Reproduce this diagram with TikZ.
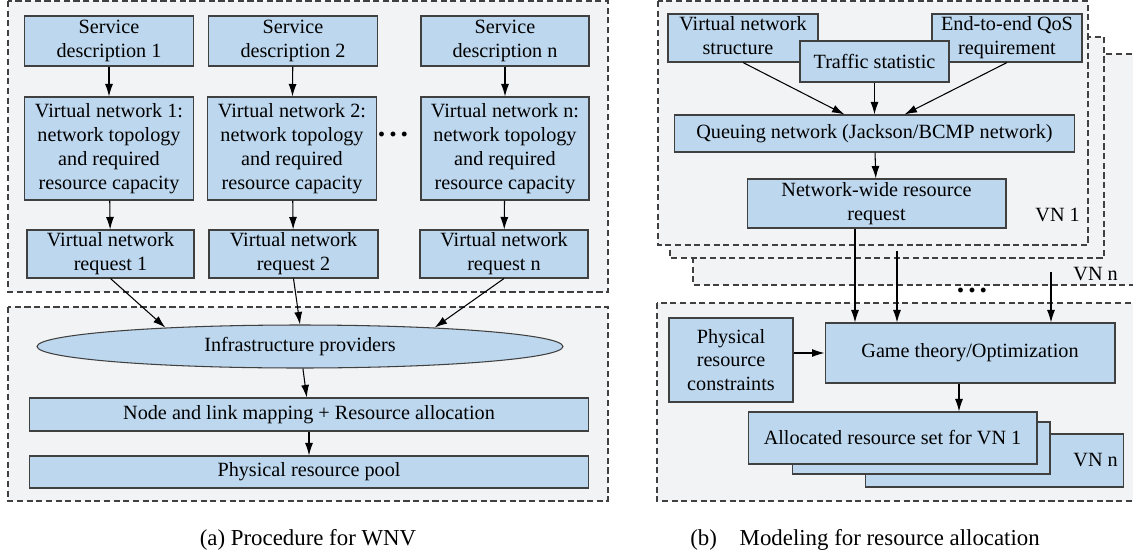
\documentclass[tikz,border=0pt]{standalone}
\usepackage{fontspec}
\setmainfont{Liberation Serif}
\usepackage{tikz}
\usetikzlibrary{shapes,arrows.meta}

\definecolor{boxblue}{RGB}{189,215,238}
\definecolor{framegray}{RGB}{242,243,245}
\definecolor{edgegray}{RGB}{64,64,64}

\begin{document}
\begin{tikzpicture}[x=0.02cm, y=-0.02cm, font=\fontsize{11.5}{13.6}\selectfont]
	\tikzstyle{block} = [rectangle, draw=edgegray, fill=boxblue, line width=0.6pt,
	align=center, inner sep=1pt]
	\tikzstyle{frame} = [draw=edgegray, fill=framegray, line width=0.6pt,
	dash pattern=on 3.5pt off 2pt]
	\tikzstyle{line} = [draw, -{Latex[length=2.5mm,width=1.6mm]}, line width=0.6pt]
	\tikzstyle{dots} = [font=\fontsize{17}{17}\selectfont\bfseries]
	\tikzstyle{caption} = [font=\fontsize{13}{15}\selectfont]
	\useasboundingbox (0,0) rectangle (1133,558);
	% Frames
	\draw [frame] (8,1) rectangle (608,292);
	\draw [frame] (8,307) rectangle (608,501);
	\draw [frame] (693,54) rectangle (1150,285);
	\draw [frame] (670,37) rectangle (1104,258);
	\draw [frame] (658,1) rectangle (1088,245);
	\draw [frame] (657,303) rectangle (1150,501);
	% Place nodes (a)
	\node [block, minimum width=3.38cm, minimum height=1cm] (sd1) at (109,41) {Service\\description 1};
	\node [block, minimum width=3.38cm, minimum height=1cm] (sd2) at (293,41) {Service\\description 2};
	\node [block, minimum width=3.36cm, minimum height=1cm] (sdn) at (505,41) {Service\\description n};
	\node [block, minimum width=3.38cm, minimum height=2.06cm] (vn1) at (109,148.5) {Virtual network 1:\\network topology\\and required\\resource capacity};
	\node [block, minimum width=3.38cm, minimum height=2.06cm] (vn2) at (292,148.5) {Virtual network 2:\\network topology\\and required\\resource capacity};
	\node [block, minimum width=3.36cm, minimum height=2.06cm] (vnn) at (505,148.5) {Virtual network n:\\network topology\\and required\\resource capacity};
	\node [block, minimum width=3.34cm, minimum height=0.96cm] (req1) at (110.5,254) {Virtual network\\request 1};
	\node [block, minimum width=3.38cm, minimum height=0.96cm] (req2) at (293.5,254) {Virtual network\\request 2};
	\node [block, minimum width=3.36cm, minimum height=0.96cm] (reqn) at (504,254) {Virtual network\\request n};
	\node [dots] (dotsa) at (393,134) {.\hspace{2.2pt}.\hspace{2.2pt}.};
	\node [ellipse, draw=edgegray, fill=boxblue, line width=0.6pt, inner sep=0pt,
	minimum width=10.52cm, minimum height=0.86cm] (infra) at (300,346.5) {Infrastructure providers};
	\node [block, minimum width=11.2cm, minimum height=0.66cm] (mapping) at (309,414.5) {Node and link mapping + Resource allocation};
	\node [block, minimum width=11.2cm, minimum height=0.64cm] (pool) at (309,472) {Physical resource pool};
	\node [caption] (capa) at (308,540) {(a) Procedure for WNV};
	% Place nodes (b)
	\node [block, minimum width=3cm, minimum height=0.96cm] (vns) at (743,38) {Virtual network\\structure\phantom{y}};
	\node [block, minimum width=3cm, minimum height=0.96cm] (qos) at (1007,38) {End-to-end QoS\\requirement};
	\node [block, minimum width=2.98cm, minimum height=0.82cm] (traffic) at (874.5,61.5) {Traffic statistic};
	\node [block, minimum width=8.02cm, minimum height=0.74cm] (queue) at (874.5,133.5) {Queuing network (Jackson/BCMP network)};
	\node [block, minimum width=5.18cm, minimum height=0.98cm] (nwrr) at (876.5,203.5) {Network-wide resource\\request};
	\node [anchor=east] (vn1lab) at (1086,215) {VN 1};
	\node [anchor=east] (vnnlab) at (1124,274) {VN n};
	\node [dots] (dotsb) at (972,290) {.\hspace{2.2pt}.\hspace{2.2pt}.};
	\node [block, minimum width=2.48cm, minimum height=1.68cm] (phys) at (731,360) {Physical\\resource\\constraints};
	\node [block, minimum width=5.8cm, minimum height=1.2cm] (game) at (970,353) {Game theory/Optimization};
	\node [block, minimum width=5.16cm, minimum height=1.06cm, anchor=east,
	label={[anchor=east]east:VN n}] (alloc3) at (1124,460.5) {};
	\node [block, minimum width=5.16cm, minimum height=1.04cm] (alloc2) at (921,448) {};
	\node [block, minimum width=5.78cm, minimum height=1.04cm] (alloc1) at (892.5,438) {Allocated resource set for VN 1};
	\node [caption] (capb) at (865,540) {(b)\hspace{1em}Modeling for resource allocation};
	\coordinate (fromvn2) at (897,251);
	\coordinate (fromvnn) at (1051,272);
	% Draw edges
	\path [line] (sd1) -- (vn1);
	\path [line] (sd2) -- (vn2);
	\path [line] (sdn) -- (vnn);
	\path [line] (vn1) -- (req1);
	\path [line] (vn2) -- (req2);
	\path [line] (vnn) -- (reqn);
	\path [line] (req1.south) -- (infra.172);
	\path [line] (req2.south) -- (infra.north);
	\path [line] (reqn.south) -- (infra.8);
	\path [line] (infra) -- (mapping);
	\path [line] (mapping) -- (pool);
	\path [line] (vns.south) -- ([xshift=-0.6cm]queue.north);
	\path [line] (traffic) -- (queue);
	\path [line] (qos.south) -- ([xshift=0.6cm]queue.north);
	\path [line] (queue) -- (nwrr);
	\path [line] ([xshift=-0.43cm]nwrr.south) -- ([xshift=-0.43cm]nwrr.south |- game.north);
	\path [line] (fromvn2) -- (fromvn2 |- game.north);
	\path [line] (fromvnn) -- (fromvnn |- game.north);
	\path [line] (phys.east |- game.west) -- (game.west);
	\path [line] ([xshift=-0.22cm]game.south) -- ([xshift=-0.22cm]game.south |- alloc1.north);
\end{tikzpicture}
\end{document}
